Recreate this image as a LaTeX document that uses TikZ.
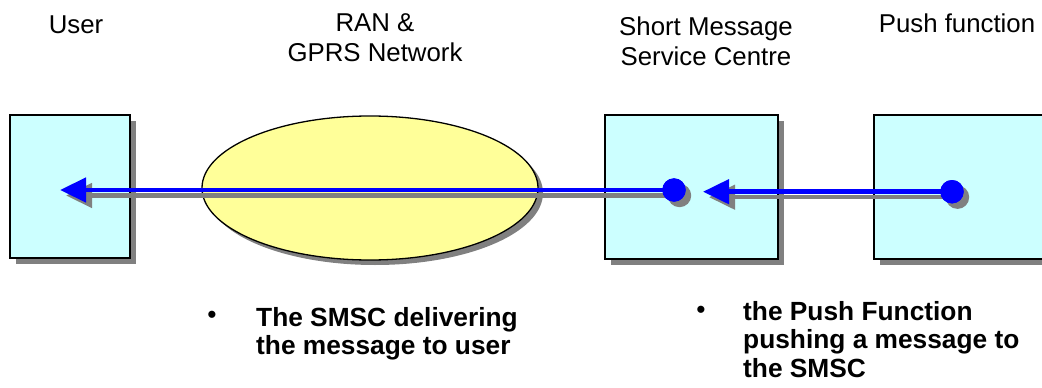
\documentclass[tikz,border=0pt]{standalone}
\usepackage{fontspec}
\setmainfont{Liberation Sans}
\usetikzlibrary{arrows.meta,shapes.geometric,shadows}
\definecolor{boxfill}{HTML}{CCFFFF}
\definecolor{ellfill}{HTML}{FFFF99}
\definecolor{shadowgrey}{HTML}{808080}
\definecolor{linkblue}{HTML}{0000FF}
\begin{document}
\begin{tikzpicture}[x=1pt,y=-1pt,
  entity/.style={rectangle, draw=black, line width=1.8pt, fill=boxfill, inner sep=0pt,
    drop shadow={shadow xshift=6pt, shadow yshift=-6pt, fill=shadowgrey, opacity=1}},
  network/.style={ellipse, draw=black, line width=1.3pt, fill=ellfill, inner sep=0pt,
    minimum width=336pt, minimum height=144pt,
    drop shadow={shadow xshift=5pt, shadow yshift=-5pt, fill=shadowgrey, opacity=1}},
  dotmark/.style={circle, fill=linkblue, inner sep=0pt, minimum size=23.4pt},
  dotshade/.style={circle, fill=shadowgrey, inner sep=0pt, minimum size=23.4pt},
  bluelink/.style={draw=linkblue, line width=4.5pt, -{Triangle[length=26pt,width=24pt]}, fill=linkblue},
  shadelink/.style={draw=shadowgrey, line width=4.5pt, -{Triangle[length=26pt,width=24pt]}, fill=shadowgrey},
  heading/.style={font=\fontsize{25.8pt}{30pt}\selectfont, inner sep=0pt, align=center},
  bulletline/.style={font=\bfseries\fontsize{26.3pt}{28.5pt}\selectfont, inner sep=0pt, align=left},
  bulletmark/.style={font=\fontsize{26.3pt}{28.5pt}\selectfont, inner sep=0pt}
]
\path[use as bounding box] (0,0) rectangle (1042,388);

% boxes and network
\node[entity, minimum width=120pt, minimum height=143pt] (user) at (70,186.5) {};
\node[network] (ran) at (370,188) {};
\node[entity, minimum width=173pt, minimum height=144pt] (smsc) at (691.5,187) {};
\node[entity, minimum width=173pt, minimum height=144pt] (push) at (960.5,187) {};

% connector end points
\coordinate (usertip) at (60,190);
\coordinate (smsctip) at (703,191.7);
\coordinate (smscc) at (674,190);
\coordinate (pushc) at (952,191.7);

% shadows of connectors and dots
\node[dotshade] (smscdotshade) at ([shift={(5.5,5.5)}]smscc) {};
\node[dotshade] (pushdotshade) at ([shift={(5.5,5.5)}]pushc) {};
\coordinate (usertipshade) at ([shift={(6,5.5)}]usertip);
\coordinate (smsctipshade) at ([shift={(6,5.5)}]smsctip);
\draw[shadelink] (smscdotshade.center) -- (usertipshade);
\draw[shadelink] (pushdotshade.center) -- (smsctipshade);

% blue connectors and dots
\node[dotmark] (smscdot) at (smscc) {};
\node[dotmark] (pushdot) at (pushc) {};
\draw[bluelink] (smscdot.center) -- (usertip);
\draw[bluelink] (pushdot.center) -- (smsctip);
\node[dotmark] at (smscc) {};
\node[dotmark] at (pushc) {};

% headings
\node[heading, anchor=base] (userlabel) at (76,33) {User};
\node[heading, anchor=north] (ranlabel) at (375,13.2) {RAN \&\\GPRS Network};
\node[heading, anchor=north] (smsclabel) at (706,16.2) {Short Message\\Service Centre};
\node[heading, anchor=base] (pushlabel) at (957,32) {Push function};

% bullet texts
\node[bulletmark] (b1) at (212,317) {•};
\node[bulletline, anchor=north west] (t1) at (256,306.8) {The SMSC delivering\\the message to user};
\node[bulletmark] (b2) at (701,312) {•};
\node[bulletline, anchor=north west] (t2) at (743,300.8) {the Push Function\\pushing a message to\\the SMSC};
\end{tikzpicture}
\end{document}
